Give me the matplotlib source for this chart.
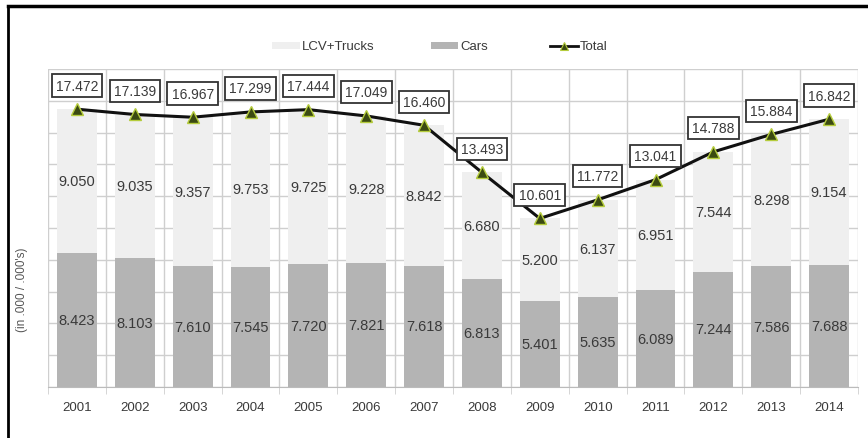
import numpy as np
import matplotlib.pyplot as plt
from matplotlib.patches import Rectangle
from matplotlib.lines import Line2D

plt.rcParams['font.family'] = ['Liberation Sans', 'DejaVu Sans']

years = ['2001', '2002', '2003', '2004', '2005', '2006', '2007',
         '2008', '2009', '2010', '2011', '2012', '2013', '2014']
cars = [8.423, 8.103, 7.610, 7.545, 7.720, 7.821, 7.618,
        6.813, 5.401, 5.635, 6.089, 7.244, 7.586, 7.688]
lcv_trucks = [9.050, 9.035, 9.357, 9.753, 9.725, 9.228, 8.842,
              6.680, 5.200, 6.137, 6.951, 7.544, 8.298, 9.154]
total = [17.472, 17.139, 16.967, 17.299, 17.444, 17.049, 16.460,
         13.493, 10.601, 11.772, 13.041, 14.788, 15.884, 16.842]

txt = '#3a3a3a'
grid = '#cfcfcf'
c_cars = '#b4b4b4'
c_lcv = '#efefef'
mk = dict(marker='^', mfc='#3b4a12', mec='#b5cc3c')

fig = plt.figure(figsize=(8.68, 4.39), dpi=100)
ax = fig.add_axes([48 / 868, 51 / 439, 810 / 868, 318 / 439])

x = np.arange(len(years))
w = 0.69
ax.bar(x, cars, w, color=c_cars, zorder=2)
ax.bar(x, lcv_trucks, w, bottom=cars, color=c_lcv, zorder=2)
ax.plot(x, total, color='#111111', lw=2.2, zorder=4, ms=8, mew=1.0, **mk)

for i in range(len(years)):
    ax.text(x[i], cars[i] / 2, '%.3f' % cars[i], ha='center', va='center',
            fontsize=10.5, color=txt, zorder=5)
    ax.text(x[i], cars[i] + lcv_trucks[i] / 2, '%.3f' % lcv_trucks[i],
            ha='center', va='center', fontsize=10.5, color=txt, zorder=5)
    ax.annotate('%.3f' % total[i], (x[i], total[i]), xytext=(0, 17),
                textcoords='offset points', ha='center', va='center',
                fontsize=10, color=txt, zorder=6,
                bbox=dict(boxstyle='square,pad=0.3', fc='white',
                          ec='#333333', lw=1.3))

ax.set_xlim(-0.5, len(years) - 0.5)
ax.set_ylim(0, 20)
ax.set_yticks(np.arange(0, 21, 2))
ax.set_yticklabels([])
ax.tick_params(axis='y', length=0)
ax.set_xticks(x)
ax.set_xticklabels(years, fontsize=9.5, color=txt)
ax.tick_params(axis='x', length=0, pad=10)
ax.set_xticks(np.arange(-0.5, len(years), 1), minor=True)
ax.tick_params(axis='x', which='minor', length=5, color=grid)
ax.grid(True, axis='y', color=grid, lw=1, zorder=0)
ax.grid(True, axis='x', which='minor', color=grid, lw=1, zorder=0)
for s in ['top', 'right', 'left']:
    ax.spines[s].set_visible(False)
ax.spines['bottom'].set_color('#bbbbbb')

fig.text(22 / 868, 1 - 290 / 439, "(in .000 / .000's)", rotation=90,
         ha='center', va='center', fontsize=8.5, color='#555555')

# legend row above the plot
ly = 1 - 47 / 439
fig.add_artist(Rectangle((272 / 868, ly - 3 / 439), 28 / 868, 7 / 439,
                         transform=fig.transFigure, fc=c_lcv, ec='none'))
fig.text(302 / 868, ly, 'LCV+Trucks', va='center', fontsize=9.5, color=txt)
fig.add_artist(Rectangle((431 / 868, ly - 3 / 439), 27 / 868, 7 / 439,
                         transform=fig.transFigure, fc=c_cars, ec='none'))
fig.text(460 / 868, ly, 'Cars', va='center', fontsize=9.5, color=txt)
fig.add_artist(Line2D([550 / 868, 578 / 868], [ly, ly],
                      transform=fig.transFigure, color='#111111', lw=2))
fig.add_artist(Line2D([564 / 868], [ly], transform=fig.transFigure,
                      ms=6, mew=0.8, **mk))
fig.text(580 / 868, ly, 'Total', va='center', fontsize=9.5, color=txt)

# frame around the chart, open on the right and bottom
fig.add_artist(Line2D([8 / 868, 8 / 868], [0, 1 - 7 / 439],
                      transform=fig.transFigure, color='black', lw=2))
fig.add_artist(Line2D([8 / 868, 1], [1 - 7 / 439, 1 - 7 / 439],
                      transform=fig.transFigure, color='black', lw=2.5))

fig.savefig('out.png', dpi=100)
